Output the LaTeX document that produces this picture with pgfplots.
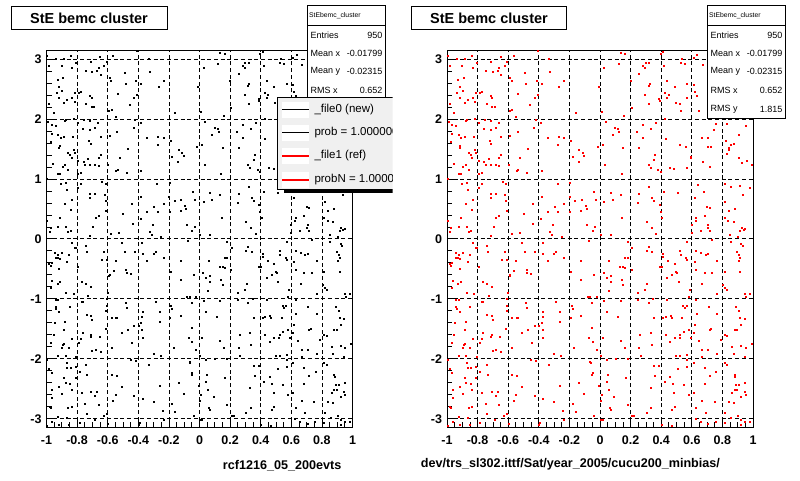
\documentclass[border=0pt]{standalone}
\usepackage{pgfplots}
\pgfplotsset{compat=1.18}
\usepackage{pgfplotstable}
\usepackage{fontspec}
\setmainfont{Liberation Sans}
\definecolor{rootred}{RGB}{255,0,0}
\definecolor{legbg}{RGB}{240,240,240}

\pgfplotstableread{
x y
-0.996 3.06
-0.937 3.01
-0.887 3.01
-0.839 3.06
-0.652 3.04
-0.567 3.06
-0.409 3.13
-0.333 3.01
-0.985 2.88
-0.902 2.89
-0.833 2.85
-0.807 2.93
-0.713 2.96
-0.746 2.81
-0.702 2.78
-0.670 2.81
-0.659 2.86
-0.648 2.74
-0.626 2.89
-0.609 2.96
-0.489 2.77
-0.326 2.78
-0.587 2.69
-0.578 2.64
-0.483 2.59
-0.415 2.63
-0.383 2.59
-0.235 2.63
-0.267 2.54
-0.930 2.66
-0.891 2.69
-0.920 2.54
-0.935 2.43
-0.898 2.47
-0.920 2.35
-0.887 2.27
-0.865 2.32
-0.833 2.36
-0.815 2.44
-0.817 2.29
-0.789 2.44
-0.776 2.46
-0.717 2.39
-0.707 2.35
-0.741 2.25
-0.707 2.21
-0.691 2.21
-0.985 2.26
-0.954 2.11
-0.593 2.14
-0.576 2.16
-0.550 2.04
-0.535 2.42
-0.457 2.23
-0.430 2.36
-0.409 2.41
-0.159 2.11
-0.011 2.54
-0.991 1.96
-0.967 1.91
-0.941 1.89
-0.880 1.97
-0.872 1.98
-0.820 2.01
-0.796 1.93
-0.754 1.99
-0.717 1.97
-0.763 1.83
-0.717 1.82
-0.685 1.85
-0.665 1.93
-0.967 1.75
-0.924 1.73
-0.909 1.68
-0.887 1.71
-0.828 1.71
-0.915 1.56
-0.920 1.52
-0.974 1.62
-0.724 1.63
-0.713 1.58
-0.648 1.71
-0.587 1.72
-0.541 1.78
-0.433 1.85
-0.422 1.98
-0.387 1.93
-0.343 1.68
-0.270 1.71
-0.235 1.69
-0.191 1.64
-0.276 1.57
-0.017 1.54
-0.137 1.49
-0.115 1.44
-0.104 1.39
-0.180 1.37
-0.141 1.28
-0.470 1.51
-0.522 1.36
-0.820 1.49
-0.815 1.44
-0.859 1.43
-0.848 1.41
-0.837 1.35
-0.796 1.31
-0.730 1.34
-0.648 1.41
-0.659 1.36
-0.759 1.28
-0.748 1.24
-0.717 1.24
-0.685 1.23
-0.662 1.22
-0.600 1.23
-0.880 1.24
-0.896 1.21
-0.959 1.25
-0.859 1.15
-0.924 1.08
-0.911 1.08
-0.796 1.08
-0.774 1.11
-0.546 1.13
-0.535 1.16
-0.476 1.11
-0.383 1.14
-0.997 1.00
-0.907 0.92
-0.872 0.93
-0.774 0.92
-0.793 0.86
-0.637 0.96
-0.615 0.92
-0.865 0.82
-0.717 0.76
-0.685 0.76
-0.620 0.73
-0.835 0.66
-0.717 0.68
-0.615 0.63
-0.880 0.58
-0.839 0.49
-0.613 0.47
-0.441 0.58
-0.383 0.71
-0.343 0.46
-0.298 0.54
-0.274 0.46
-0.235 0.59
-0.200 0.71
-0.196 0.46
-0.278 0.92
-0.198 0.94
-0.163 0.64
-0.122 0.66
-0.126 0.47
-0.089 0.51
-0.043 0.78
-0.030 0.66
-0.096 0.56
-0.502 0.42
-0.659 0.39
-0.680 0.35
-0.911 0.36
-0.996 0.31
-0.924 0.21
-0.872 0.21
-0.843 0.14
-0.859 0.12
-0.974 0.18
-0.980 0.12
-0.698 0.20
-0.437 0.26
-0.385 0.34
-0.307 0.23
-0.326 0.12
-0.315 0.07
-0.252 0.03
-0.580 0.08
-0.528 0.10
-0.717 0.06
-0.085 0.23
-0.050 0.13
-0.033 0.21
0.134 3.10
0.163 3.08
0.395 3.08
0.412 3.12
0.633 3.07
0.531 3.01
0.612 3.02
0.026 2.86
0.119 2.92
0.282 2.89
0.297 2.93
0.319 2.93
0.293 2.85
0.254 2.75
0.419 2.89
0.525 2.93
0.553 2.92
0.670 2.91
0.200 2.63
0.315 2.56
0.323 2.58
0.438 2.63
0.486 2.54
0.568 2.58
0.612 2.57
0.293 2.41
0.423 2.44
0.384 2.34
0.390 2.31
0.449 2.41
0.438 2.35
0.618 2.45
0.629 2.39
0.319 2.25
0.493 2.27
0.518 2.25
0.568 2.35
0.525 2.14
0.644 2.14
0.204 2.19
0.011 2.12
0.158 2.06
0.423 2.01
0.037 1.95
0.098 1.85
0.117 1.84
0.124 1.78
0.080 1.73
0.243 1.78
0.282 1.91
0.334 1.84
0.367 1.93
0.282 1.68
0.015 1.57
0.150 1.52
0.254 1.52
0.427 1.67
0.518 1.57
0.562 1.53
0.590 1.35
0.596 1.37
0.662 1.69
0.705 1.68
0.757 1.92
0.742 1.82
0.705 1.54
0.722 1.54
0.829 1.92
0.954 1.89
0.905 1.74
0.824 1.63
0.840 1.52
0.857 1.57
0.872 1.58
0.829 1.42
0.840 1.49
0.905 1.36
0.959 1.31
0.926 1.27
0.991 1.23
0.358 1.41
0.351 1.32
0.380 1.16
0.315 1.23
0.330 1.18
0.453 1.19
0.482 1.17
0.564 1.19
0.716 1.21
0.670 1.28
0.033 1.23
0.141 1.09
0.395 1.12
0.319 0.87
0.069 0.77
0.132 0.73
0.254 0.75
0.341 0.68
0.351 0.64
0.026 0.62
0.080 0.66
0.417 0.79
0.510 0.77
0.388 0.57
0.395 0.45
0.406 0.36
0.247 0.60
0.640 0.91
0.677 0.78
0.616 0.69
0.627 0.35
0.623 0.31
0.597 0.24
0.597 0.10
0.698 0.53
0.716 0.52
0.683 0.38
0.705 0.24
0.703 0.18
0.716 0.13
0.655 0.14
0.814 0.92
0.857 0.87
0.916 0.89
0.933 0.74
0.976 0.85
0.818 0.62
0.879 0.50
0.840 0.47
0.814 0.35
0.835 0.31
0.872 0.28
0.926 0.18
0.939 0.16
0.948 0.17
0.916 0.13
0.850 0.07
0.900 0.04
0.145 0.35
0.304 0.29
0.336 0.18
0.367 0.09
0.069 0.07
0.004 0.07
0.72 2.95
0.76 2.62
0.79 3.05
0.81 2.31
0.84 2.78
0.86 2.12
0.88 2.55
0.90 2.97
0.93 2.36
0.95 2.70
0.97 2.18
0.74 2.40
0.83 2.88
0.91 2.50
0.98 3.08
0.77 2.07
0.87 2.26
0.94 2.83
-0.833 -0.07
-0.815 -0.14
-0.807 -0.15
-0.741 -0.11
-0.737 -0.22
-0.511 -0.07
-0.376 -0.07
-0.946 -0.23
-0.924 -0.26
-0.898 -0.23
-0.854 -0.27
-0.941 -0.32
-0.930 -0.32
-0.915 -0.33
-0.865 -0.38
-0.967 -0.39
-0.983 -0.42
-0.974 -0.44
-0.920 -0.50
-0.626 -0.22
-0.641 -0.34
-0.609 -0.35
-0.491 -0.22
-0.426 -0.22
-0.372 -0.24
-0.300 -0.24
-0.289 -0.22
-0.343 -0.37
-0.237 -0.32
-0.126 -0.37
-0.550 -0.37
-0.561 -0.53
-0.589 -0.60
-0.593 -0.61
-0.480 -0.52
-0.478 -0.56
-0.452 -0.58
-0.796 -0.46
-0.189 -0.54
-0.039 -0.60
-0.126 -0.68
-0.965 -0.70
-0.930 -0.74
-0.913 -0.71
-0.767 -0.72
-0.741 -0.74
-0.711 -0.79
-0.970 -0.81
-0.874 -0.89
-0.824 -0.92
-0.730 -0.94
-0.602 -0.90
-0.609 -0.99
-0.083 -0.97
-0.065 -0.97
-0.024 -0.97
-0.054 -1.06
-0.076 -0.03
-0.941 -1.01
-0.926 -1.02
-0.941 -1.13
-0.937 -1.16
-0.920 -1.21
-0.850 -1.13
-0.772 -1.04
-0.765 -1.04
-0.609 -1.11
-0.611 -1.20
-0.485 -1.07
-0.476 -1.15
-0.289 -1.04
-0.263 -1.22
-0.185 -1.11
-0.180 -1.17
-0.372 -1.22
-0.193 -1.31
-0.739 -1.26
-0.709 -1.28
-0.704 -1.34
-0.576 -1.31
-0.546 -1.32
-0.539 -1.32
-0.880 -1.38
-0.948 -1.39
-0.376 -1.30
-0.263 -1.38
-0.126 -1.28
-0.615 -1.50
-0.470 -1.52
-0.511 -1.56
-0.430 -1.44
-0.400 -1.44
-0.383 -1.40
-0.376 -1.51
-0.054 -1.48
-0.887 -1.52
-0.765 -1.57
-0.774 -1.66
-0.713 -1.63
-0.709 -1.60
-0.654 -1.63
-0.787 -1.73
-0.954 -1.60
-0.833 -1.66
-0.891 -1.77
-0.885 -1.75
-0.852 -1.81
-0.898 -1.81
-0.972 -1.73
-0.576 -1.81
-0.446 -1.73
-0.372 -1.65
-0.072 -1.65
-0.048 -1.71
-0.170 -1.81
-0.024 -1.85
-0.704 -1.87
-0.680 -1.85
-0.646 -1.88
-0.300 -1.91
-0.254 -1.95
-0.807 -1.96
-0.926 -1.95
-0.876 -1.94
-0.996 -2.01
-0.450 -2.02
-0.420 -2.03
-0.067 -2.05
-0.062 -2.07
-0.870 -2.06
-0.741 -2.09
-0.811 -2.13
-0.865 -2.14
-0.843 -2.14
-0.785 -2.21
-0.333 -2.10
-0.985 -2.17
-0.967 -2.23
-0.576 -2.27
-0.543 -2.28
-0.735 -2.27
-0.054 -2.27
-0.050 -2.23
-0.811 -2.32
-0.887 -2.32
-0.876 -2.40
-0.837 -2.51
-0.848 -2.41
-0.920 -2.46
-0.965 -2.52
-0.965 -2.65
-0.898 -2.58
-0.772 -2.56
-0.709 -2.55
-0.670 -2.55
-0.685 -2.61
-0.659 -2.77
-0.511 -2.46
-0.550 -2.59
-0.430 -2.61
-0.263 -2.45
-0.139 -2.39
-0.104 -2.58
-0.007 -2.45
-0.372 -2.66
-0.300 -2.72
-0.750 -2.75
-0.980 -2.80
-0.974 -2.82
-0.859 -2.81
-0.837 -2.80
-0.565 -2.69
-0.180 -2.75
-0.159 -2.88
-0.243 -2.87
-0.039 -2.95
-0.924 -2.96
-0.865 -2.98
-0.739 -2.92
-0.628 -2.94
-0.607 -2.92
-0.235 -3.02
-0.687 -3.01
-0.785 -3.06
-0.600 -3.08
-0.394 -3.06
-0.400 -3.09
-0.965 -3.05
-0.996 -3.11
-0.854 -3.10
-0.920 -3.10
0.178 -0.05
0.210 -0.14
0.315 -0.13
0.302 -0.19
0.341 -0.22
0.568 -0.04
0.627 -0.19
0.660 -0.23
0.688 -0.26
0.705 -0.25
0.731 -0.01
0.764 -0.36
0.851 -0.04
0.922 -0.08
0.931 -0.11
0.894 -0.21
0.909 -0.26
0.916 -0.32
0.905 -0.37
0.410 -0.25
0.412 -0.29
0.521 -0.19
0.525 -0.26
0.562 -0.32
0.568 -0.34
0.445 -0.37
0.488 -0.41
0.390 -0.46
0.401 -0.47
0.497 -0.54
0.503 -0.57
0.514 -0.71
0.471 -0.59
0.438 -0.65
0.059 -0.37
0.130 -0.47
0.150 -0.47
0.163 -0.48
0.178 -0.32
0.163 -0.32
0.204 -0.51
0.022 -0.57
0.041 -0.65
0.069 -0.61
0.069 -0.72
0.139 -0.68
0.150 -0.76
0.054 -0.86
0.308 -0.74
0.293 -0.85
0.249 -0.89
0.345 -1.00
0.584 -0.85
0.579 -0.96
0.618 -0.38
0.627 -0.51
0.662 -0.74
0.681 -0.56
0.731 -0.57
0.764 -0.92
0.814 -0.54
0.803 -0.76
0.818 -0.82
0.829 -0.85
0.916 -0.55
0.948 -0.92
0.981 -0.92
0.954 -0.96
0.026 -1.03
0.134 -1.03
0.249 -1.01
0.438 -1.01
0.627 -1.01
0.315 -1.07
0.542 -1.11
0.553 -1.14
0.564 -1.11
0.709 -1.13
0.764 -1.25
0.887 -1.13
0.909 -1.20
0.041 -1.22
0.113 -1.29
0.354 -1.31
0.410 -1.32
0.427 -1.30
0.460 -1.28
0.466 -1.32
0.536 -1.32
0.629 -1.25
0.618 -1.43
0.714 -1.52
0.725 -1.50
0.916 -1.31
0.944 -1.33
0.922 -1.43
0.894 -1.52
0.814 -1.60
0.829 -1.62
0.878 -1.52
0.015 -1.65
0.260 -1.60
0.330 -1.57
0.427 -1.60
0.488 -1.64
0.521 -1.60
0.547 -1.54
0.579 -1.52
0.518 -1.65
0.456 -1.71
0.590 -1.64
0.612 -1.56
0.644 -1.69
0.132 -1.69
0.160 -1.81
0.336 -1.77
0.254 -1.82
0.265 -1.94
0.666 -1.85
0.705 -1.84
0.764 -1.91
0.786 -1.68
0.861 -1.79
0.922 -1.78
0.952 -1.81
0.991 -1.74
0.872 -1.92
0.944 -1.97
0.497 -1.94
0.521 -1.94
0.568 -1.93
0.568 -2.02
0.666 -1.96
0.004 -1.94
0.178 -2.00
0.041 -2.02
0.102 -2.00
0.354 -2.11
0.384 -2.11
0.167 -2.31
0.048 -2.26
0.041 -2.38
0.054 -2.52
0.091 -2.63
0.009 -2.59
0.004 -2.69
0.063 -2.81
0.069 -2.84
0.178 -2.76
0.330 -2.48
0.358 -2.28
0.456 -2.30
0.510 -2.17
0.421 -2.38
0.475 -2.41
0.547 -2.43
0.482 -2.57
0.579 -2.59
0.488 -2.80
0.471 -2.85
0.334 -2.81
0.302 -2.89
0.221 -2.95
0.210 -2.95
0.401 -3.09
0.466 -3.11
0.568 -2.13
0.612 -2.06
0.683 -2.14
0.757 -2.21
0.716 -2.28
0.683 -2.41
0.612 -2.57
0.666 -2.70
0.749 -2.71
0.627 -2.81
0.688 -2.89
0.623 -2.99
0.655 -3.04
0.705 -3.08
0.753 -3.04
0.814 -2.06
0.829 -2.09
0.879 -2.26
0.883 -2.30
0.887 -2.43
0.879 -2.51
0.894 -2.51
0.861 -2.56
0.909 -2.43
0.948 -2.39
0.952 -2.59
0.944 -2.55
0.922 -2.63
0.872 -2.73
0.840 -2.71
0.818 -2.89
0.900 -2.94
0.857 -2.98
0.922 -3.01
0.948 -3.04
0.981 -3.04
0.814 -3.06
0.922 -3.09
0.004 -3.02
0.015 -3.01
}\pts

\pgfplotsset{
  rootax/.style={
    anchor=south west,
    scale only axis,
    width=306pt, height=376.8pt,
    xmin=-1, xmax=1, ymin=-3.14159, ymax=3.14159,
    axis line style={black, line width=1pt},
    xtick={-1,-0.8,-0.6,-0.4,-0.2,0,0.2,0.4,0.6,0.8,1},
    xticklabels={-1,-0.8,-0.6,-0.4,-0.2,0,0.2,0.4,0.6,0.8,1},
    ytick={-3,-2,-1,0,1,2,3},
    yticklabels={-3,-2,-1,0,1,2,3},
    minor x tick num=3,
    minor y tick num=4,
    tick align=inside,
    xtick pos=bottom, ytick pos=left,
    major tick length=9pt, minor tick length=5pt,
    tick style={black, line width=0.8pt},
    grid=major,
    major grid style={black, line width=0.8pt, dash pattern=on 4pt off 2.7pt},
    xticklabel style={font=\bfseries\fontsize{12.5}{13}\selectfont, anchor=base, inner sep=0pt, yshift=-16.7pt},
    yticklabel style={font=\bfseries\fontsize{12.5}{13}\selectfont, anchor=east, inner sep=0pt, xshift=-4.8pt},
  },
}

% #1 = horizontal shift, #2 = list of visible rows
\newcommand{\statsbox}[2]{%
  \begin{scope}[xshift=#1]
    \draw[fill=white, line width=1pt] (307pt,361pt) rectangle (385pt,474pt);
    \draw[line width=1pt] (307pt,454.5pt) -- (385pt,454.5pt);
    \node[anchor=west, inner sep=0pt, font=\fontsize{6.8}{7}\selectfont] at (309pt,464.5pt) {StEbemc\_cluster};
    \foreach \lab/\val/\yy in {#2}{
      \node[anchor=west, inner sep=0pt, font=\fontsize{9}{10}\selectfont] at (310.5pt,\yy pt) {\lab};
      \node[anchor=east, inner sep=0pt, font=\fontsize{9}{10}\selectfont] at (382.5pt,\yy pt) {\val};
    }
  \end{scope}}

\begin{document}
\begin{tikzpicture}
\path[use as bounding box] (0pt,0pt) rectangle (800pt,480pt);
\fill[white] (0pt,0pt) rectangle (800pt,480pt);

% left panel
\begin{axis}[rootax, at={(46.5pt,52.7pt)}]
\addplot[color=black, only marks, mark=square*, mark size=0.5pt, mark options={draw=none, fill=black}] table[x=x, y=y] {\pts};
\end{axis}

% right panel
\begin{axis}[rootax, at={(447pt,52.7pt)}]
\addplot[color=rootred, only marks, mark=square*, mark size=0.5pt, mark options={draw=none, fill=rootred}] table[x=x, y=y] {\pts};
\end{axis}

% titles
\draw[fill=white, line width=1pt] (11pt,450.7pt) rectangle (167pt,473.3pt);
\node[font=\bfseries\fontsize{14.5}{15}\selectfont, inner sep=0pt] at (89pt,462pt) {StE bemc cluster};
\draw[fill=white, line width=1pt] (411pt,450.7pt) rectangle (566.7pt,473.3pt);
\node[font=\bfseries\fontsize{14.5}{15}\selectfont, inner sep=0pt] at (489pt,462pt) {StE bemc cluster};

% stats boxes (the left one is partly hidden by the legend)
\statsbox{0pt}{Entries/950/445, Mean x/-0.01799/427, Mean y/-0.02315/408.5, RMS x/0.652/390}
\statsbox{400pt}{Entries/950/445, Mean x/-0.01799/427, Mean y/-0.02315/408.5, RMS x/0.652/390, RMS y/1.815/371}

% legend (left panel), clipped at pad edge
\begin{scope}
  \clip (270pt,280pt) rectangle (392.5pt,390pt);
  \fill[black] (284pt,286.5pt) rectangle (400pt,290pt);
  \draw[fill=legbg, line width=1pt] (277pt,290pt) rectangle (420pt,382pt);
  \foreach \yy in {370,347,324,300}{
    \fill[white] (281.7pt,\yy pt-8pt) rectangle (309.3pt,\yy pt+8pt);
  }
  \draw[black, line width=1pt] (282pt,370pt) -- (309pt,370pt);
  \draw[black, line width=1pt] (282pt,347pt) -- (309pt,347pt);
  \draw[rootred, line width=1.2pt] (282pt,324pt) -- (309pt,324pt);
  \draw[rootred, line width=1.2pt] (282pt,300pt) -- (309pt,300pt);
  \node[anchor=west, inner sep=0pt, font=\fontsize{11.5}{12}\selectfont] at (314.3pt,370pt) {\_file0 (new)};
  \node[anchor=west, inner sep=0pt, font=\fontsize{11.5}{12}\selectfont] at (314.3pt,347pt) {prob = 1.000000};
  \node[anchor=west, inner sep=0pt, font=\fontsize{11.5}{12}\selectfont] at (314.3pt,324pt) {\_file1 (ref)};
  \node[anchor=west, inner sep=0pt, font=\fontsize{11.5}{12}\selectfont] at (314.3pt,300pt) {probN = 1.000000};
\end{scope}

% axis titles
\node[anchor=base west, inner sep=0pt, font=\bfseries\fontsize{12.6}{13}\selectfont] at (222.7pt,11pt) {rcf1216\_05\_200evts};
\node[anchor=base west, inner sep=0pt, font=\bfseries\fontsize{12.6}{13}\selectfont] at (420.7pt,12.3pt) {dev/trs\_sl302.ittf/Sat/year\_2005/cucu200\_minbias/};
\end{tikzpicture}
\end{document}
